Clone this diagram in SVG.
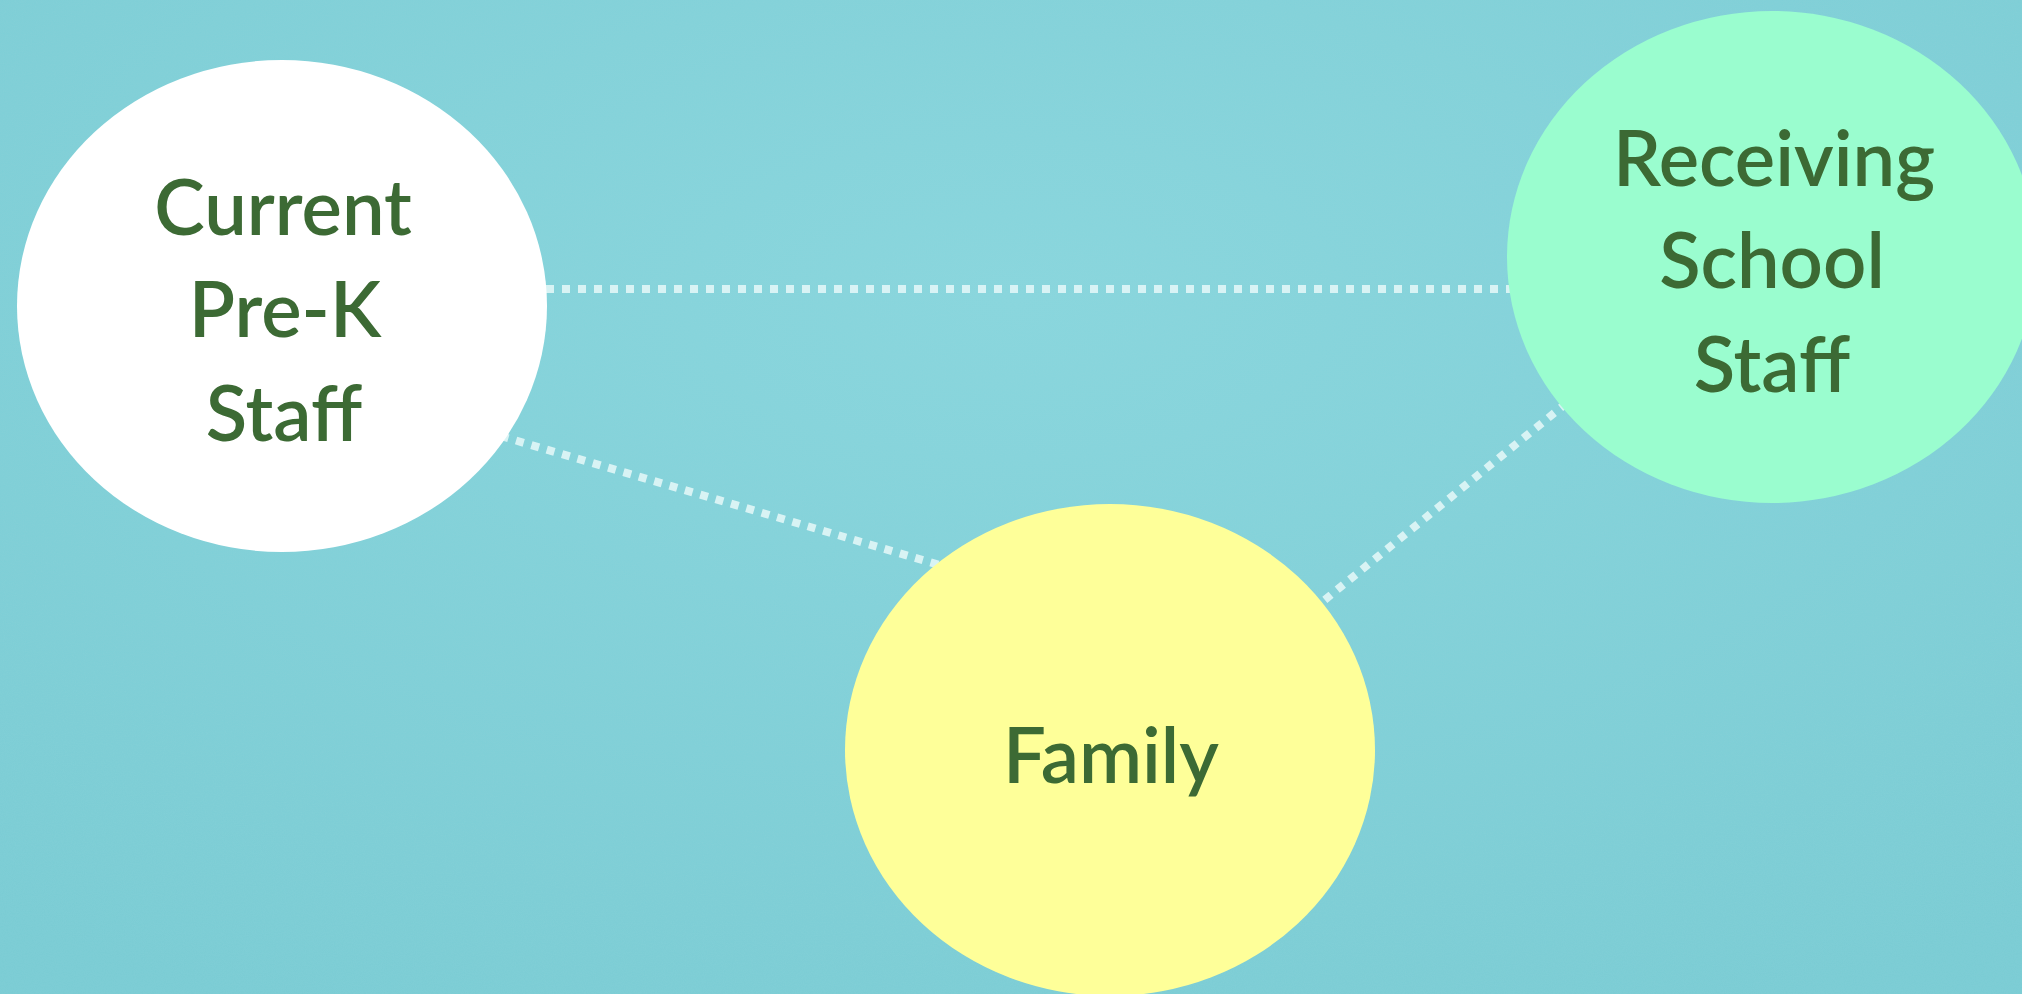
<svg xmlns="http://www.w3.org/2000/svg" width="2022" height="994" viewBox="0 0 2022 994">
  <defs>
    <style>
      .lbl { font-family: "Lato", "Noto Sans", "Liberation Sans", sans-serif; font-size: 76px; font-weight: 600; fill: #3c6a34; text-anchor: middle; }
      .conn { stroke: #dcf4f6; stroke-width: 8; stroke-dasharray: 8 8; fill: none; opacity: 0.95; }
    </style>
    <filter id="grain" x="0" y="0" width="100%" height="100%">
      <feTurbulence type="fractalNoise" baseFrequency="0.9" numOctaves="2" seed="3" result="n"/>
      <feColorMatrix type="matrix" values="0 0 0 0 0.35  0 0 0 0 0.65  0 0 0 0 0.70  0 0 0 0.18 0"/>
    </filter>
    <radialGradient id="bg" cx="0.5" cy="0.3" r="0.8">
      <stop offset="0" stop-color="#88d6dd"/>
      <stop offset="1" stop-color="#79ccd4"/>
    </radialGradient>
  </defs>
  <rect width="2022" height="994" fill="url(#bg)"/>
  <rect width="2022" height="994" filter="url(#grain)"/>

  <g id="connectors">
    <line class="conn" x1="530" y1="289" x2="1520" y2="289"/>
    <line class="conn" x1="470" y1="427" x2="960" y2="571"/>
    <line class="conn" x1="1300" y1="620" x2="1585" y2="388"/>
  </g>

  <g id="node-prek">
    <ellipse cx="282" cy="306" rx="265" ry="246" fill="#ffffff"/>
    <text class="lbl" x="283" y="235">Current</text>
    <text class="lbl" x="285" y="337">Pre-K</text>
    <text class="lbl" x="284" y="441">Staff</text>
  </g>

  <g id="node-school">
    <ellipse cx="1772" cy="257" rx="265" ry="246" fill="#9afdcf"/>
    <text class="lbl" x="1774" y="186">Receiving</text>
    <text class="lbl" x="1772" y="288">School</text>
    <text class="lbl" x="1772" y="392">Staff</text>
  </g>

  <g id="node-family">
    <ellipse cx="1110" cy="750" rx="265" ry="246" fill="#feff99"/>
    <text class="lbl" x="1111" y="783">Family</text>
  </g>
</svg>
